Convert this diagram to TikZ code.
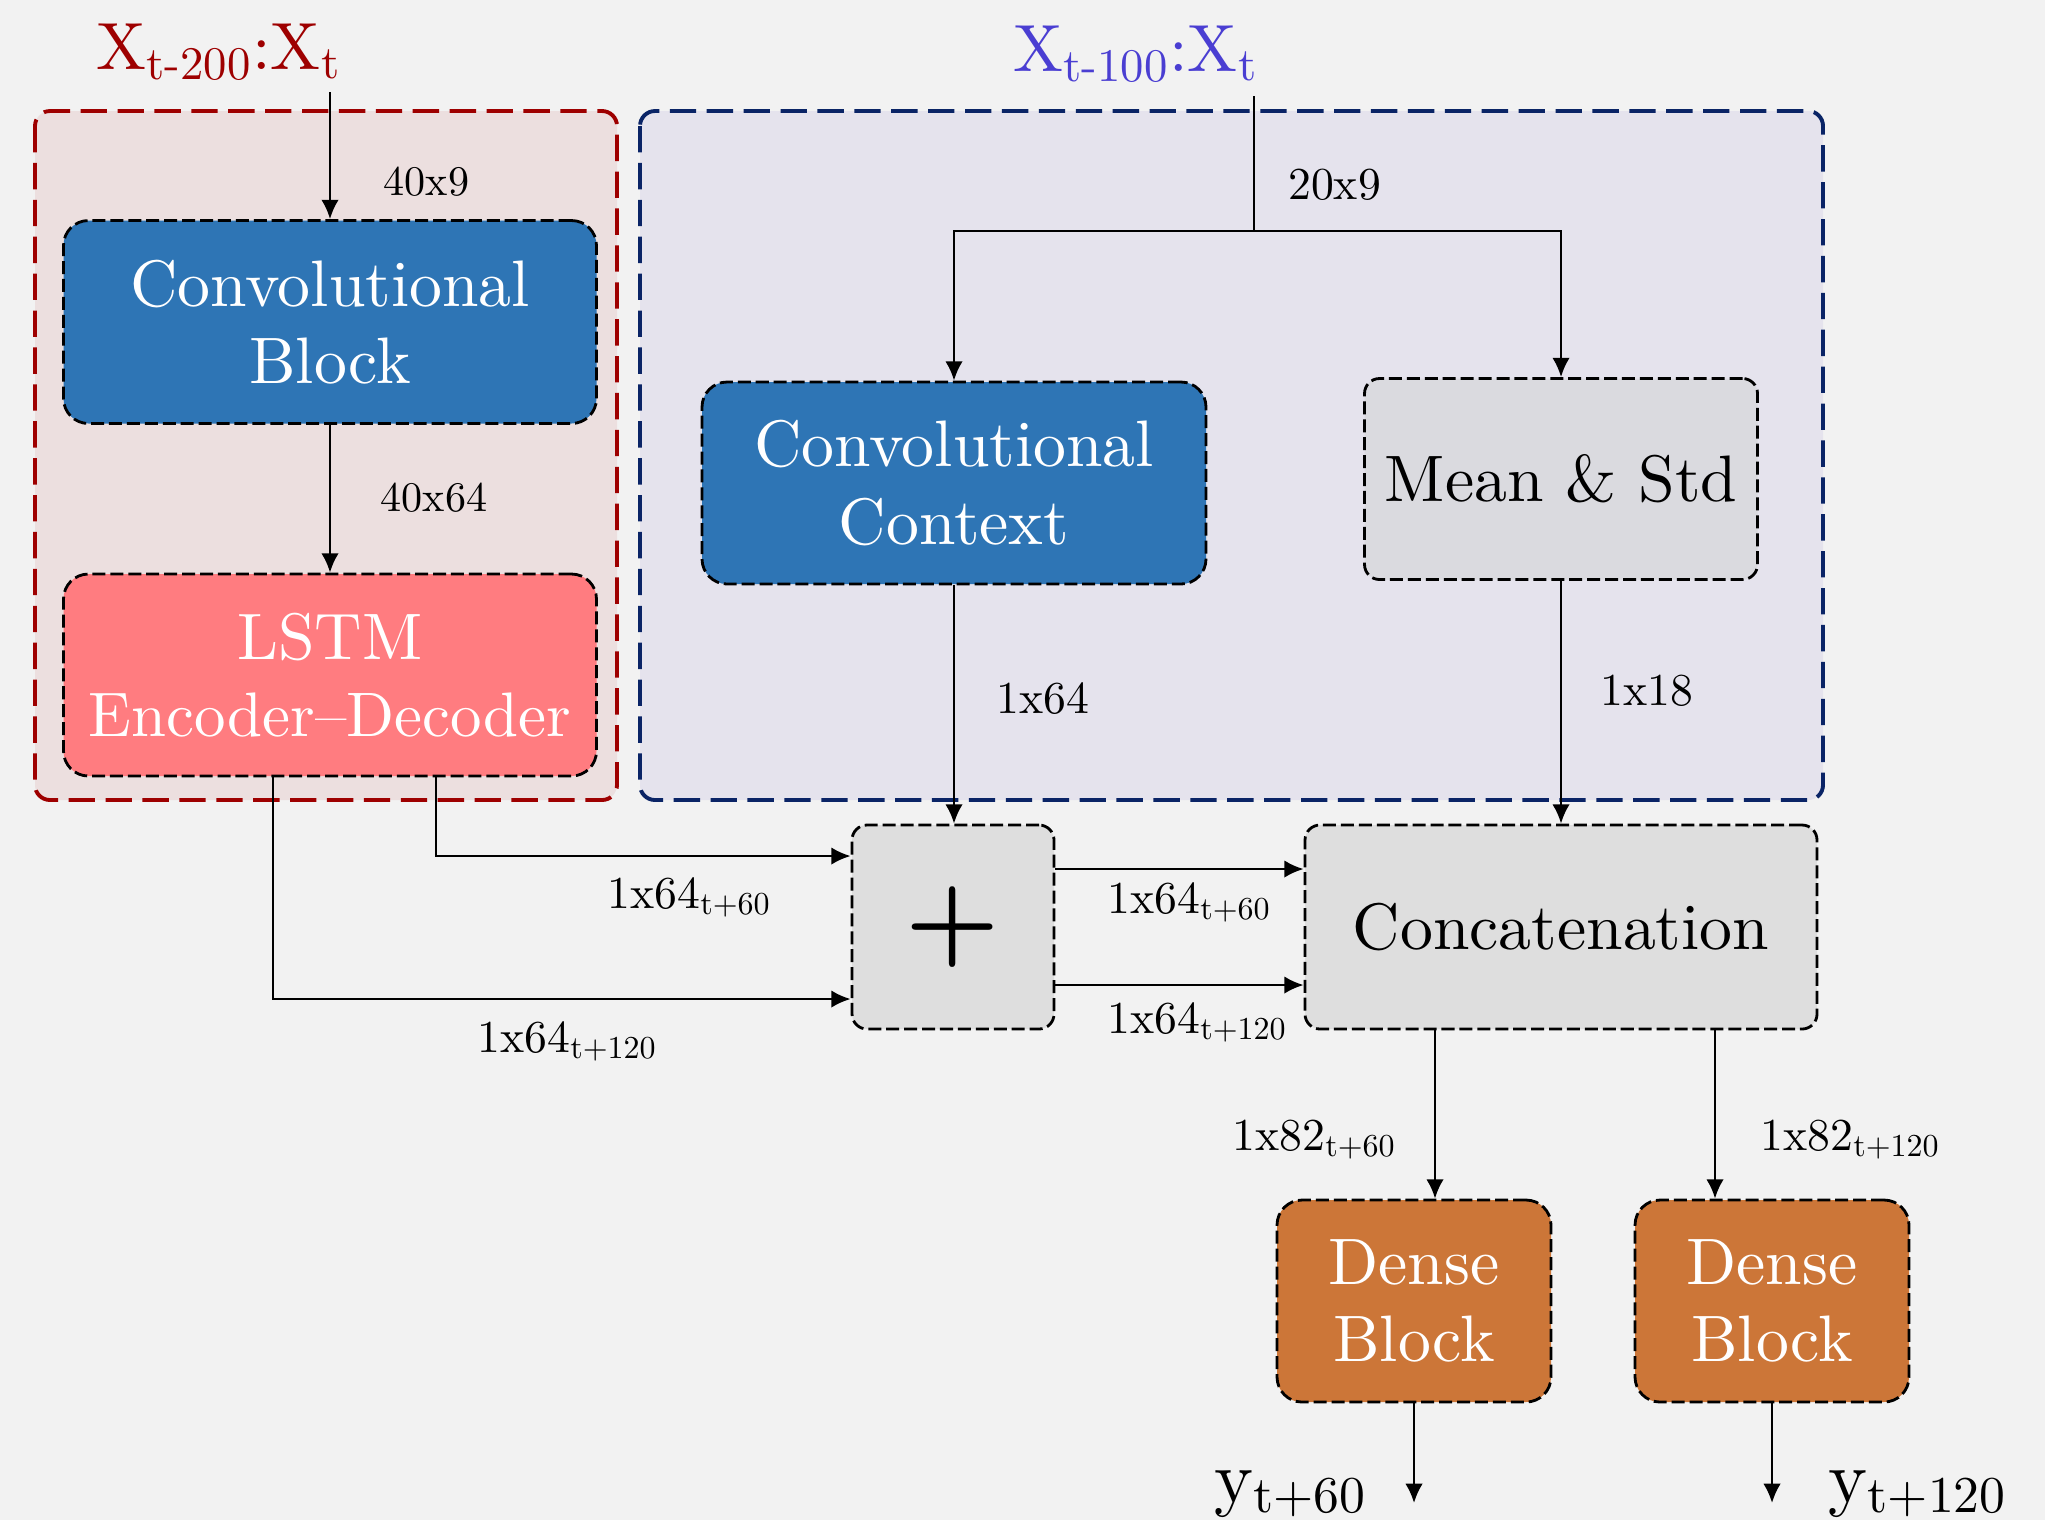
\documentclass[tikz,border=0pt]{standalone}
\usepackage{fontspec}
\setmainfont{lmroman10-regular.otf}[BoldFont=lmroman10-bold.otf]
\usetikzlibrary{arrows.meta}
\definecolor{fond}{HTML}{F2F2F2}
\definecolor{fondrouge}{HTML}{ECDFDF}
\definecolor{fondbleu}{HTML}{E5E3ED}
\definecolor{rouge}{HTML}{9E0000}
\definecolor{marine}{HTML}{0A2466}
\definecolor{violet}{HTML}{4A3ED2}
\definecolor{bleu}{HTML}{2E75B5}
\definecolor{rose}{HTML}{FF7C80}
\definecolor{orange}{HTML}{CC7638}
\definecolor{gris}{HTML}{DEDEDE}
\definecolor{grisbleu}{HTML}{DADADF}
\begin{document}
\begin{tikzpicture}
\tikzset{bloc/.style={draw=black, line width=0.8pt, dash pattern=on 3.7pt off 1.4pt, rounded corners=0.25cm, inner sep=0pt, align=center, font=\fontsize{18.7}{22}\selectfont},
boitegris/.style={bloc, rounded corners=0.15cm},
cadre/.style={line width=1.1pt, dash pattern=on 7.5pt off 3pt, rounded corners=0.15cm},
dim/.style={inner sep=0pt, anchor=base west, font=\fontsize{13}{15}\selectfont},
titre/.style={inner sep=0pt, anchor=base west, font=\fontsize{19}{22}\selectfont},
fleche/.style={line width=0.75pt, -{Latex[length=5.5pt,width=5pt]}}}
\fill[fond] (0,0) rectangle (20.45,-15.20);
\draw[cadre, draw=rouge, fill=fondrouge] (0.35,-1.11) rectangle (6.17,-8.00);
\draw[cadre, draw=marine, fill=fondbleu] (6.40,-1.11) rectangle (18.23,-8.00);
\node[bloc, fill=bleu, text=white, minimum width=5.33cm, minimum height=2.03cm] (CB) at (3.30,-3.22) {Convolutional\\Block};
\node[bloc, fill=rose, text=white, minimum width=5.33cm, minimum height=2.02cm] (LSTM) at (3.30,-6.75) {LSTM\\{\fontsize{17.9}{22}\selectfont Encoder--Decoder}};
\node[bloc, fill=bleu, text=white, minimum width=5.04cm, minimum height=2.02cm] (CC) at (9.54,-4.83) {Convolutional\\Context};
\node[boitegris, fill=grisbleu, minimum width=3.93cm, minimum height=2.01cm] (MS) at (15.61,-4.79) {Mean \& Std};
\node[boitegris, fill=gris, minimum width=2.02cm, minimum height=2.04cm, font=\fontsize{30}{30}\selectfont\bfseries] (P) at (9.53,-9.27) {+};
\node[boitegris, fill=gris, minimum width=5.12cm, minimum height=2.04cm] (CAT) at (15.61,-9.27) {Concatenation};
\node[bloc, fill=orange, text=white, minimum width=2.74cm, minimum height=2.02cm] (D1) at (14.14,-13.01) {Dense\\Block};
\node[bloc, fill=orange, text=white, minimum width=2.74cm, minimum height=2.02cm] (D2) at (17.72,-13.01) {Dense\\Block};
\node[titre, text=rouge] (X1) at (0.96,-0.69) {X\textsubscript{t-200}:X\textsubscript{t}};
\node[titre, text=violet] (X2) at (10.13,-0.71) {X\textsubscript{t-100}:X\textsubscript{t}};
\node[titre, font=\fontsize{21}{24}\selectfont] (Y1) at (12.14,-15.02) {y\textsubscript{t+60}};
\node[titre, font=\fontsize{21}{24}\selectfont] (Y2) at (18.28,-15.02) {y\textsubscript{t+120}};
\coordinate (E1) at (3.30,-0.92);
\coordinate (E2) at (12.54,-0.96);
\coordinate (B) at (12.54,-2.31);
\coordinate (S1) at (14.14,-15.03);
\coordinate (S2) at (17.72,-15.03);
\draw[fleche] (E1) -- (CB.north);
\draw[fleche] (CB) -- (LSTM);
\draw[line width=0.75pt] (E2) -- (B);
\draw[fleche] (B) -| (CC.north);
\draw[fleche] (B) -| (MS.north);
\draw[fleche] (CC.south) -- (CC.south |- P.north);
\draw[fleche] (MS.south) -- (MS.south |- CAT.north);
\draw[fleche] ([xshift=1.06cm]LSTM.south) |- ([yshift=0.71cm]P.west);
\draw[fleche] ([xshift=-0.57cm]LSTM.south) |- ([yshift=-0.72cm]P.west);
\draw[fleche] ([yshift=0.58cm]P.east) -- ([yshift=0.58cm]P.east -| CAT.west);
\draw[fleche] ([yshift=-0.58cm]P.east) -- ([yshift=-0.58cm]P.east -| CAT.west);
\draw[fleche] ([xshift=-1.26cm]CAT.south) -- ([xshift=-1.26cm]CAT.south |- D1.north);
\draw[fleche] ([xshift=1.54cm]CAT.south) -- ([xshift=1.54cm]CAT.south |- D2.north);
\draw[fleche] (D1) -- (S1);
\draw[fleche] (D2) -- (S2);
\node[dim, font=\fontsize{12}{14}\selectfont] (L1) at (3.83,-1.95) {40x9};
\node[dim, font=\fontsize{12}{14}\selectfont] (L2) at (3.80,-5.11) {40x64};
\node[dim] (L3) at (12.875,-1.99) {20x9};
\node[dim] (L4) at (9.96,-7.13) {1x64};
\node[dim] (L5) at (16.00,-7.05) {1x18};
\node[dim] (L6) at (6.07,-9.08) {1x64\textsubscript{t+60}};
\node[dim] (L7) at (4.77,-10.52) {1x64\textsubscript{t+120}};
\node[dim] (L8) at (11.07,-9.13) {1x64\textsubscript{t+60}};
\node[dim] (L9) at (11.07,-10.33) {1x64\textsubscript{t+120}};
\node[dim] (L10) at (12.32,-11.50) {1x82\textsubscript{t+60}};
\node[dim] (L11) at (17.60,-11.50) {1x82\textsubscript{t+120}};
\end{tikzpicture}
\end{document}
